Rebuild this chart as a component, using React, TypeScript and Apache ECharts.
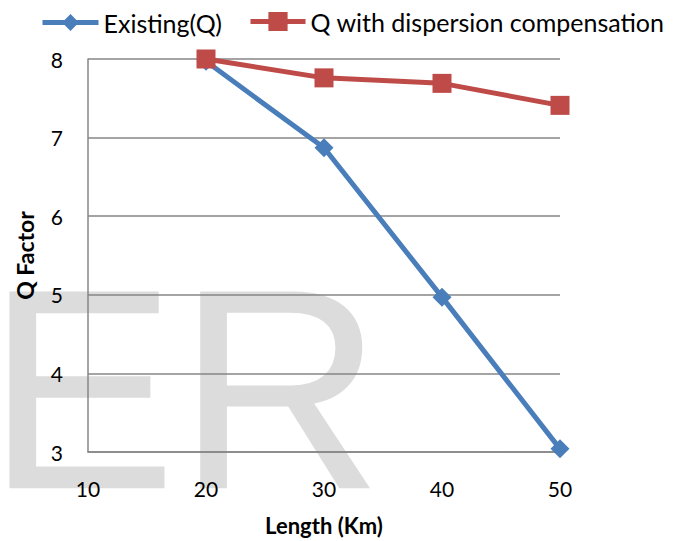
import React, { useEffect, useRef } from "react";
import * as echarts from "echarts";

const lengths = [10, 20, 30, 40, 50];
const existingQ: (number | null)[] = [null, 7.97, 6.87, 4.97, 3.04];
const compensatedQ: (number | null)[] = [null, 8.0, 7.76, 7.69, 7.41];
const seriesNames = ["Existing(Q)", "Q with dispersion compensation"];
const FONT = "Lato";

export default function App() {
  const ref = useRef<HTMLDivElement>(null);
  useEffect(() => {
    const chart = echarts.init(ref.current!, undefined, { renderer: "svg" });
    const toPairs = (arr: (number | null)[]) =>
      lengths.map((x, i) => [x, arr[i]]).filter((p) => p[1] !== null);
    const legendBase = {
      padding: 0,
      lineStyle: { width: 5 },
      textStyle: { fontFamily: FONT, fontSize: 25, color: "#000" },
    };
    chart.setOption({
      animation: false,
      backgroundColor: "#ffffff",
      textStyle: { fontFamily: FONT },
      graphic: [
        {
          type: "text",
          z: -10,
          left: -14,
          top: 505 - 286 * 0.905,
          style: {
            text: "ER",
            font: "286px 'Liberation Sans'",
            fill: "#dcdcdc",
          },
        },
      ],
      legend: [
        { ...legendBase, top: 10, left: 40, itemWidth: 56, itemHeight: 21, data: [seriesNames[0]] },
        { ...legendBase, top: 9, left: 248, itemWidth: 55, itemHeight: 24, data: [seriesNames[1]] },
      ],
      grid: {
        left: 88,
        right: 113,
        top: 59,
        bottom: 89,
        containLabel: false,
        outerBoundsMode: "none",
      },
      xAxis: {
        type: "value",
        min: 10,
        max: 50,
        interval: 10,
        name: "Length (Km)",
        nameLocation: "middle",
        nameGap: 62,
        nameTextStyle: { fontFamily: FONT, fontSize: 22, fontWeight: "bold", color: "#000" },
        axisLine: { show: true, lineStyle: { color: "#868686", width: 1.5 } },
        axisTick: { show: false },
        splitLine: { show: false },
        axisLabel: { fontFamily: FONT, fontSize: 21, color: "#000", margin: 26 },
      },
      yAxis: {
        type: "value",
        min: 3,
        max: 8,
        interval: 1,
        name: "Q Factor",
        nameLocation: "middle",
        nameGap: 52,
        nameTextStyle: { fontFamily: FONT, fontSize: 23, fontWeight: "bold", color: "#000" },
        axisLine: { show: true, lineStyle: { color: "#868686", width: 1.5 } },
        axisTick: { show: false },
        splitLine: { show: true, lineStyle: { color: "#868686", width: 1.5 } },
        axisLabel: { fontFamily: FONT, fontSize: 21, color: "#000", margin: 25 },
      },
      series: [
        {
          name: seriesNames[0],
          type: "line",
          data: toPairs(existingQ),
          symbol: "diamond",
          symbolSize: 19,
          lineStyle: { color: "#4a7ebb", width: 5 },
          itemStyle: { color: "#4a7ebb" },
          z: 2,
        },
        {
          name: seriesNames[1],
          type: "line",
          data: toPairs(compensatedQ),
          symbol: "rect",
          symbolSize: 19,
          lineStyle: { color: "#be4b48", width: 5 },
          itemStyle: { color: "#be4b48" },
          z: 3,
        },
      ],
    });
    return () => chart.dispose();
  }, []);
  return (
    <div
      ref={ref}
      style={{ position: "fixed", left: 0, top: 0, width: 673, height: 541 }}
    />
  );
}
